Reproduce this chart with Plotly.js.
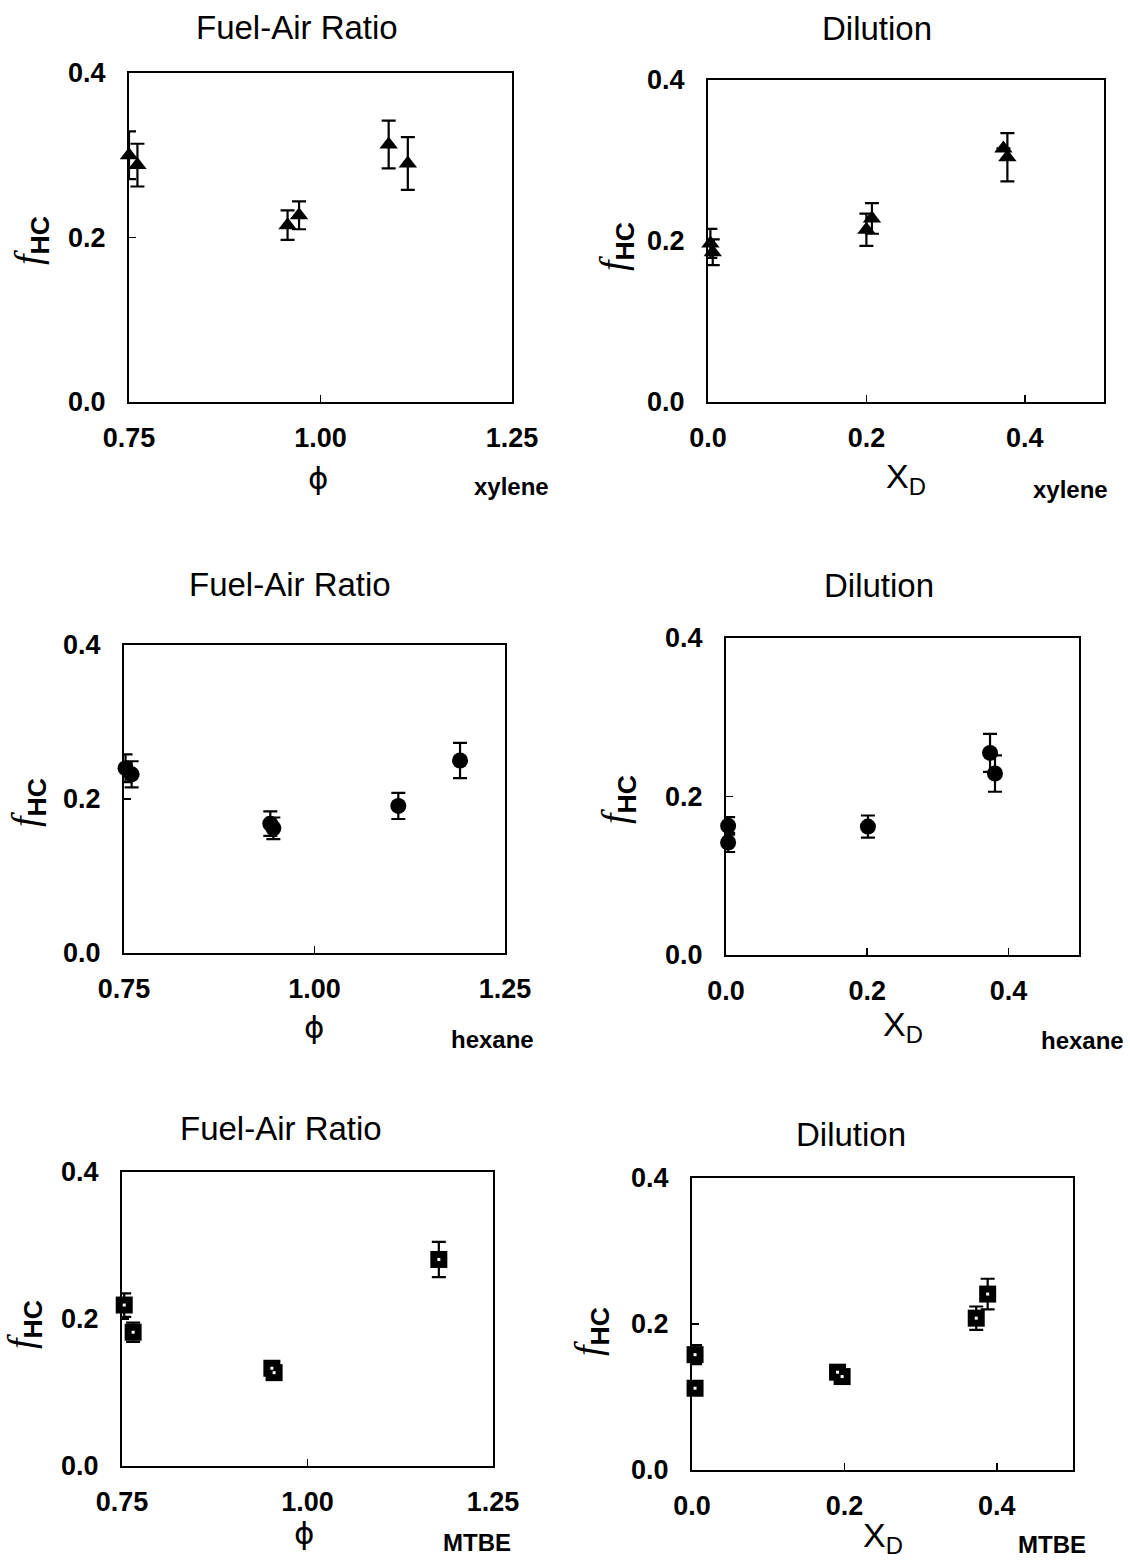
<!DOCTYPE html>
<html>
<head>
<meta charset="utf-8">
<script src="https://cdn.plot.ly/plotly-3.0.1.min.js"></script>
<style>
  html, body { margin: 0; padding: 0; background: #fff; }
  #chart { width: 1130px; height: 1561px; }
</style>
</head>
<body>
<div id="chart"></div>
<script>
// ---- measured hydrocarbon fraction f_HC, with error bars ----

// xylene, fuel-air ratio sweep
const xyleneFarPhi = [0.750, 0.761, 0.957, 0.972, 1.089, 1.114];
const xyleneFarF   = [0.300, 0.288, 0.215, 0.227, 0.313, 0.290];
const xyleneFarErr = [0.029, 0.026, 0.018, 0.017, 0.029, 0.032];

// xylene, dilution sweep
const xyleneDilX   = [0.003, 0.006, 0.200, 0.207, 0.373, 0.378];
const xyleneDilF   = [0.197, 0.186, 0.214, 0.228, 0.315, 0.304];
const xyleneDilErr = [0.018, 0.016, 0.020, 0.019, 0.000, 0.030];

// hexane, fuel-air ratio sweep
const hexaneFarPhi = [0.752, 0.760, 0.942, 0.946, 1.110, 1.191];
const hexaneFarF   = [0.240, 0.232, 0.168, 0.162, 0.191, 0.250];
const hexaneFarErr = [0.018, 0.017, 0.016, 0.014, 0.017, 0.023];

// hexane, dilution sweep
const hexaneDilX   = [0.003, 0.003, 0.201, 0.374, 0.381];
const hexaneDilF   = [0.163, 0.142, 0.162, 0.255, 0.229];
const hexaneDilErr = [0.011, 0.012, 0.014, 0.024, 0.023];

// MTBE, fuel-air ratio sweep
const mtbeFarPhi = [0.753, 0.765, 0.952, 0.955, 1.177];
const mtbeFarF   = [0.219, 0.182, 0.133, 0.127, 0.281];
const mtbeFarErr = [0.016, 0.013, 0.006, 0.006, 0.024];

// MTBE, dilution sweep
const mtbeDilX   = [0.004, 0.004, 0.191, 0.197, 0.373, 0.388];
const mtbeDilF   = [0.158, 0.112, 0.134, 0.128, 0.208, 0.241];
const mtbeDilErr = [0.013, 0.005, 0.006, 0.006, 0.016, 0.021];

// axis ticks
const phiTicks = [0.75, 1.00, 1.25];
const phiTickText = ['0.75', '1.00', '1.25'];
const xdTicks = [0.0, 0.2, 0.4];
const xdTickText = ['0.0', '0.2', '0.4'];
const fTicks = [0.0, 0.2, 0.4];
const fTickText = ['0.0', '0.2', '0.4'];

const panelTitles = ['Fuel-Air Ratio', 'Dilution'];
const fuelNames = ['xylene', 'hexane', 'MTBE'];

// ---- layout helpers ----
const W = 1130, H = 1561;
const px = v => v / W;
const py = v => 1 - v / H;

// plot boxes in pixels: [left, right, top, bottom]
const boxes = [
  [129, 512, 73, 402],
  [708, 1104, 80, 402],
  [124, 505, 645, 953],
  [726, 1079, 638, 955],
  [122, 493, 1172, 1466],
  [692, 1073, 1178, 1470]
];

const panels = [
  { x: xyleneFarPhi, y: xyleneFarF, e: xyleneFarErr, sym: 'triangle-up', size: 16, far: true },
  { x: xyleneDilX,   y: xyleneDilF, e: xyleneDilErr, sym: 'triangle-up', size: 16, far: false },
  { x: hexaneFarPhi, y: hexaneFarF, e: hexaneFarErr, sym: 'circle', size: 16, far: true },
  { x: hexaneDilX,   y: hexaneDilF, e: hexaneDilErr, sym: 'circle', size: 16, far: false },
  { x: mtbeFarPhi,   y: mtbeFarF,   e: mtbeFarErr,   sym: 'square', size: 17, far: true },
  { x: mtbeDilX,     y: mtbeDilF,   e: mtbeDilErr,   sym: 'square', size: 17, far: false }
];

const SANS = 'Liberation Sans, Arial, sans-serif';
const traces = [];
const layout = {
  width: W, height: H,
  margin: { l: 0, r: 0, t: 0, b: 0 },
  showlegend: false,
  paper_bgcolor: '#ffffff',
  plot_bgcolor: '#ffffff',
  font: { family: SANS, color: '#000' },
  annotations: []
};

const axisBase = {
  showline: true, mirror: true, linecolor: '#000', linewidth: 2,
  ticks: 'inside', ticklen: 7, tickwidth: 1.5, tickcolor: '#000',
  showgrid: false, zeroline: false, fixedrange: true,
  tickfont: { family: SANS, size: 27, color: '#000', weight: 'bold' }
};

panels.forEach((p, i) => {
  const n = i + 1;
  const sfx = n > 1 ? String(n) : '';
  const [l, r, t, b] = boxes[i];

  layout['xaxis' + sfx] = Object.assign({}, axisBase, {
    domain: [px(l), px(r)],
    anchor: 'y' + sfx,
    range: p.far ? [0.75, 1.25] : [0, 0.5],
    tickmode: 'array',
    tickvals: p.far ? phiTicks : xdTicks,
    ticktext: p.far ? phiTickText : xdTickText,
    ticklabelstandoff: 11
  });
  layout['yaxis' + sfx] = Object.assign({}, axisBase, {
    domain: [py(b), py(t)],
    anchor: 'x' + sfx,
    range: [0, 0.4],
    tickmode: 'array',
    tickvals: fTicks,
    ticktext: fTickText,
    ticklabelstandoff: 16
  });

  traces.push({
    type: 'scatter', mode: 'markers',
    x: p.x, y: p.y,
    xaxis: 'x' + sfx, yaxis: 'y' + sfx,
    cliponaxis: false,
    marker: { symbol: p.sym, size: p.size, color: '#000' },
    error_y: { type: 'data', array: p.e, visible: true, color: '#000', thickness: 2.2, width: 7 }
  });
  if (p.sym === 'square') {
    // small light centre speck of the square markers
    traces.push({
      type: 'scatter', mode: 'markers',
      x: p.x, y: p.y,
      xaxis: 'x' + sfx, yaxis: 'y' + sfx,
      cliponaxis: false, hoverinfo: 'skip',
      marker: { symbol: 'square', size: 3, color: '#fff' }
    });
  }
});

// panel titles
const titlePos = [[297, 27], [877, 29], [290, 584], [879, 585], [281, 1128], [851, 1134]];
titlePos.forEach((pos, i) => {
  layout.annotations.push({
    text: panelTitles[i % 2], xref: 'paper', yref: 'paper',
    x: px(pos[0]), y: py(pos[1]), xanchor: 'center', yanchor: 'middle',
    showarrow: false, font: { family: SANS, size: 33, color: '#000' }
  });
});

// x-axis titles
const xTitlePos = [[318, 478], [906, 479], [314, 1027], [903, 1026], [304, 1533], [883, 1537]];
xTitlePos.forEach((pos, i) => {
  const far = i % 2 === 0;
  layout.annotations.push({
    text: far ? 'ϕ' : 'X<sub>D</sub>', xref: 'paper', yref: 'paper',
    x: px(pos[0]), y: py(pos[1]), xanchor: 'center', yanchor: 'middle',
    showarrow: false,
    font: far ? { family: 'DejaVu Sans, sans-serif', size: 31, color: '#000' }
              : { family: SANS, size: 34, color: '#000' }
  });
});

// fuel labels
const fuelPos = [[511, 487], [1070, 489], [492, 1039], [1082, 1040], [477, 1542], [1052, 1544]];
fuelPos.forEach((pos, i) => {
  layout.annotations.push({
    text: fuelNames[Math.floor(i / 2)], xref: 'paper', yref: 'paper',
    x: px(pos[0]), y: py(pos[1]), xanchor: 'center', yanchor: 'middle',
    showarrow: false, font: { family: SANS, size: 24, color: '#000', weight: 'bold' }
  });
});

// y-axis titles f_HC
const yTitlePos = [[31, 241], [616, 247], [28, 803], [618, 800], [24, 1325], [591, 1332]];
yTitlePos.forEach(pos => {
  layout.annotations.push({
    text: '<i>f</i><sub><span style="font-family:Liberation Sans;font-weight:bold">HC</span></sub>',
    xref: 'paper', yref: 'paper',
    x: px(pos[0]), y: py(pos[1]), xanchor: 'center', yanchor: 'middle',
    textangle: -90, showarrow: false,
    font: { family: 'Liberation Serif, Times New Roman, serif', size: 38, color: '#000' }
  });
});

Plotly.newPlot('chart', traces, layout, { staticPlot: true, displayModeBar: false });
</script>
</body>
</html>
